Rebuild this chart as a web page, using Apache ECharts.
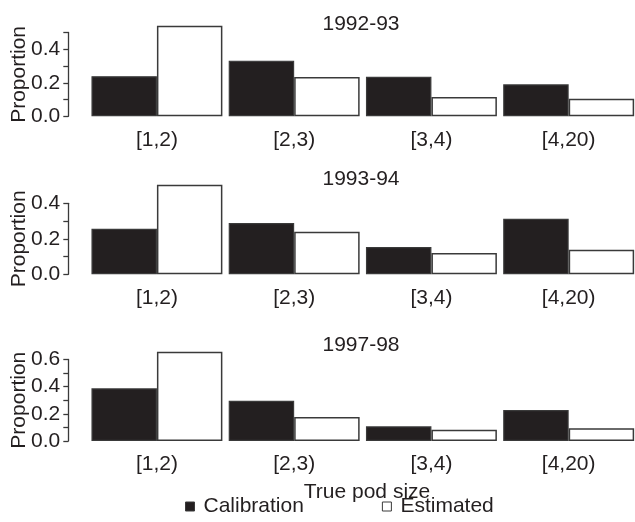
<!DOCTYPE html>
<html>
<head>
<meta charset="utf-8">
<script src="https://cdn.jsdelivr.net/npm/echarts@6/dist/echarts.min.js"></script>
<style>html,body{margin:0;padding:0;background:#fff}#c{width:635px;height:522px}</style>
</head>
<body>
<div id="c"></div>
<script>
const categories = ['[1,2)', '[2,3)', '[3,4)', '[4,20)'];
const panelTitles = ['1992-93', '1993-94', '1997-98'];
const calib9293 = [0.239, 0.332, 0.236, 0.191];
const est9293 = [0.541, 0.235, 0.115, 0.105];
const calib9394 = [0.257, 0.289, 0.154, 0.313];
const est9394 = [0.505, 0.240, 0.120, 0.139];
const calib9798 = [0.387, 0.296, 0.108, 0.228];
const est9798 = [0.657, 0.176, 0.083, 0.093];
const yMaxes = [0.5, 0.4, 0.6];
const yStep = 0.1;

const calibSets = [calib9293, calib9394, calib9798];
const estSets = [est9293, est9394, est9798];

const FONT = 'Liberation Sans, Arial, Helvetica, sans-serif';
const INK = '#231f20';
const FS = 21;

// layout (pixels)
const gridLeft = 88.3, gridWidth = 549;
const gridTops = [32.5, 203.3, 359.4];
const gridHeights = [83.8, 71, 81.6];
const titleY = [24, 179, 345];

const grids = [], xAxes = [], yAxes = [], series = [], graphics = [];
for (let i = 0; i < 3; i++) {
  grids.push({left: gridLeft, width: gridWidth, top: gridTops[i], height: gridHeights[i],
    containLabel: false, outerBoundsMode: 'none'});
  xAxes.push({type: 'category', gridIndex: i, data: categories,
    axisLine: {show: false}, axisTick: {show: false}, splitLine: {show: false},
    axisLabel: {color: INK, fontSize: FS, fontFamily: FONT, margin: 13}});
  yAxes.push({type: 'value', gridIndex: i, min: 0, max: yMaxes[i], interval: yStep, offset: 20,
    name: 'Proportion', nameLocation: 'middle', nameRotate: 90, nameGap: 39, nameMoveOverlap: false,
    nameTextStyle: {color: INK, fontSize: FS, fontFamily: FONT},
    axisLine: {show: true, lineStyle: {color: '#3a3a3a', width: 1.3}},
    axisTick: {show: true, length: 5, lineStyle: {color: '#3a3a3a', width: 1.3}},
    splitLine: {show: false},
    axisLabel: {color: INK, fontSize: FS, fontFamily: FONT, margin: 8,
      formatter: v => (Math.round(v * 10) % 2 === 0 ? v.toFixed(1) : '')}});
  series.push({type: 'bar', name: 'Calibration', xAxisIndex: i, yAxisIndex: i,
    data: calibSets[i], clip: false, barGap: '0%', barCategoryGap: '4.6%',
    itemStyle: {color: INK, borderColor: '#3a3a3a', borderWidth: 1.2}});
  series.push({type: 'bar', name: 'Estimated', xAxisIndex: i, yAxisIndex: i,
    data: estSets[i], clip: false, barGap: '0%', barCategoryGap: '4.6%',
    itemStyle: {color: '#ffffff', borderColor: '#3a3a3a', borderWidth: 1.5}});
  graphics.push({type: 'text', x: 361, y: titleY[i],
    style: {text: panelTitles[i], fill: INK, font: FS + 'px ' + FONT, textAlign: 'center', textVerticalAlign: 'middle'}});
}
graphics.push({type: 'text', x: 367, y: 492,
  style: {text: 'True pod size', fill: INK, font: FS + 'px ' + FONT, textAlign: 'center', textVerticalAlign: 'middle'}});

const chart = echarts.init(document.getElementById('c'), null, {renderer: 'canvas'});
chart.setOption({
  animation: false,
  backgroundColor: '#ffffff',
  grid: grids, xAxis: xAxes, yAxis: yAxes, series: series,
  legend: {data: ['Calibration', 'Estimated'], left: 180, top: 491, itemWidth: 9, itemHeight: 9,
    icon: 'rect', itemGap: 78, itemStyle: {borderWidth: 1},
    textStyle: {color: INK, fontSize: FS, fontFamily: FONT, padding: [0, 0, 0, 4]},
    selectedMode: false},
  graphic: graphics
});
</script>
</body>
</html>
